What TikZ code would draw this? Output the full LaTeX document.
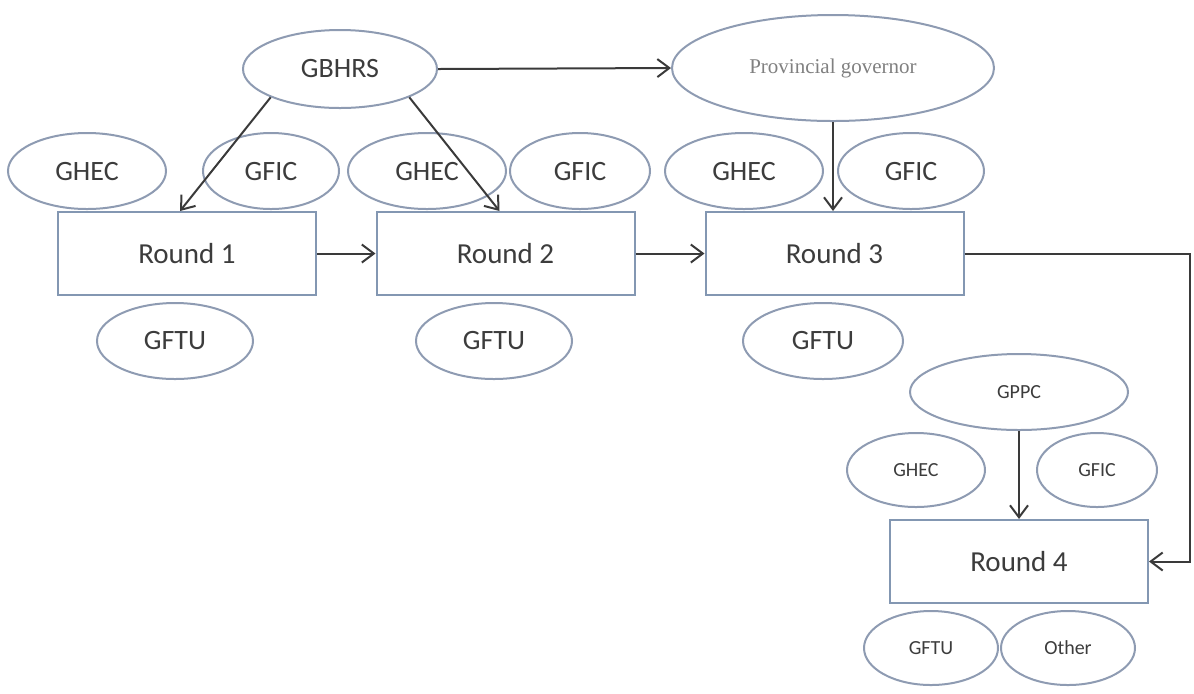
\documentclass[tikz,border=0pt]{standalone}
\usepackage{fontspec}
\setmainfont{Carlito}
\newfontfamily\govfont{Liberation Serif}
\usetikzlibrary{shapes.geometric,arrows.meta}
\definecolor{ovalline}{HTML}{8E9BB2}
\definecolor{boxline}{HTML}{8397B2}
\definecolor{linkline}{HTML}{3A3A3A}
\definecolor{labeltext}{HTML}{3C3C3C}
\tikzset{
  oval/.style={ellipse, draw=ovalline, line width=1pt, inner sep=0pt,
    text=labeltext, font=\fontsize{14}{16}\selectfont},
  smalloval/.style={oval, font=\fontsize{10}{12}\selectfont},
  roundbox/.style={rectangle, draw=boxline, line width=1pt, inner sep=0pt,
    minimum width=129pt, minimum height=41.5pt, text=labeltext,
    font=\fontsize{14.5}{17}\selectfont},
  link/.style={draw=linkline, line width=1pt,
    -{Straight Barb[length=6pt,width=9pt,line width=1pt]}}
}
\begin{document}
\begin{tikzpicture}[x=0.5pt,y=-0.5pt]
\useasboundingbox (0,0) rectangle (1194,693);

% top-level bodies
\node[oval, minimum width=97pt, minimum height=39pt] (gbhrs) at (340,69) {GBHRS};
\node[oval, minimum width=161pt, minimum height=53pt, text=gray,
      font=\govfont\fontsize{10.5}{12}\selectfont] (prov) at (833,68) {Provincial governor};

% participants around rounds 1--3
\node[oval, minimum width=79pt, minimum height=38pt] (ghec1) at (87,171) {GHEC};
\node[oval, minimum width=68pt, minimum height=38pt] (gfic1) at (271,171) {GFIC};
\node[oval, minimum width=79pt, minimum height=38pt] (ghec2) at (427,171) {GHEC};
\node[oval, minimum width=70pt, minimum height=38pt] (gfic2) at (580,171) {GFIC};
\node[oval, minimum width=79pt, minimum height=38pt] (ghec3) at (744,171) {GHEC};
\node[oval, minimum width=73pt, minimum height=38pt] (gfic3) at (911,171) {GFIC};
\node[oval, minimum width=78pt, minimum height=38pt] (gftu1) at (175,341) {GFTU};
\node[oval, minimum width=78pt, minimum height=38pt] (gftu2) at (494,341) {GFTU};
\node[oval, minimum width=80pt, minimum height=38pt] (gftu3) at (823,341) {GFTU};

% round boxes
\node[roundbox] (r1) at (187,253.5) {Round 1};
\node[roundbox] (r2) at (505.5,253.5) {Round 2};
\node[roundbox] (r3) at (834.5,253.5) {Round 3};
\node[roundbox] (r4) at (1019,561.5) {Round 4};

% participants around round 4
\node[smalloval, minimum width=109pt, minimum height=38pt] (gppc) at (1019,392) {GPPC};
\node[smalloval, minimum width=69pt, minimum height=37pt] (ghec4) at (916,470) {GHEC};
\node[smalloval, minimum width=60pt, minimum height=37pt] (gfic4) at (1097,470) {GFIC};
\node[smalloval, minimum width=67pt, minimum height=37pt] (gftu4) at (931,648) {GFTU};
\node[smalloval, minimum width=67pt, minimum height=37pt] (other) at (1068,648) {Other};

% connectors
\draw[link] (gbhrs.south west) -- ([xshift=-3.5pt]r1.north);
\draw[link] (gbhrs.south east) -- ([xshift=-3pt]r2.north);
\draw[link] (gbhrs.east) -- (prov.west);
\draw[link] (prov.south) -- (prov.south |- r3.north);
\draw[link] (r1.east) -- (r2.west);
\draw[link] (r2.east) -- (r3.west);
\coordinate (turn) at (1190,253.5);
\draw[link] (r3.east) -- (turn) |- (r4.east);
\draw[link] (gppc.south) -- (r4.north);
\end{tikzpicture}
\end{document}
